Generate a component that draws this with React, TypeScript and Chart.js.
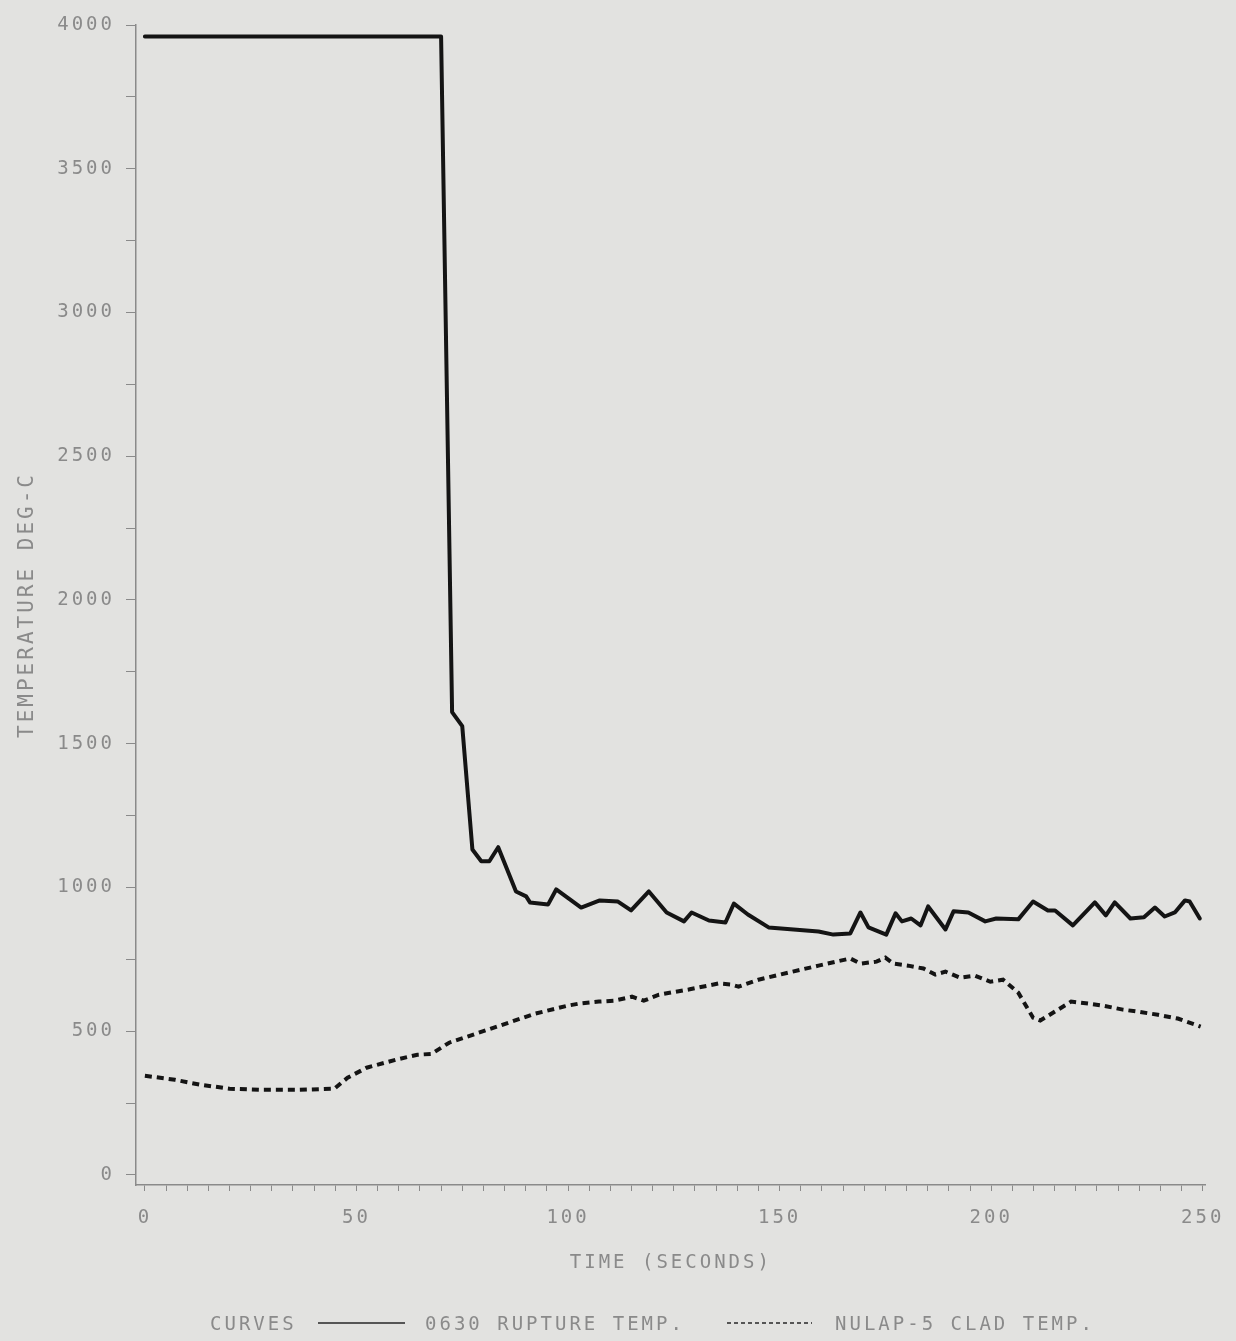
import React, { useEffect, useRef } from 'react';
import { Chart, registerables } from 'chart.js';

Chart.register(...registerables);

// ---- data ----
const ruptureTime = [0, 70, 72.6, 75.0, 77.4, 79.5, 81.4, 83.5, 87.7, 90.1, 91.0, 95.3, 97.2, 103.1, 107.5, 111.8, 114.9, 119.1, 123.3, 127.4, 129.2, 133.3, 137.2, 139.2, 142.5, 147.4, 159.2, 162.7, 166.7, 169.1, 171.0, 175.2, 177.4, 178.9, 181.1, 183.3, 185.1, 189.2, 191.1, 194.6, 198.6, 201.2, 206.4, 209.9, 213.4, 215.1, 219.3, 224.5, 227.1, 229.2, 232.9, 236.1, 238.7, 241.0, 243.4, 245.8, 246.9, 249.3];
const ruptureTemp = [3960, 3960, 1610, 1561, 1132, 1091, 1091, 1140, 986, 969, 948, 941, 993, 930, 955, 951, 920, 986, 913, 882, 913, 885, 878, 944, 906, 861, 847, 836, 840, 913, 861, 836, 910, 882, 892, 868, 934, 854, 917, 913, 882, 892, 889, 951, 920, 920, 868, 948, 903, 948, 892, 896, 930, 899, 913, 955, 951, 892];

const cladTime = [0, 7.1, 13, 20, 27.1, 36.6, 44.8, 47.9, 52.4, 59.4, 64.4, 67.7, 71.9, 81.8, 92.2, 100.0, 102.6, 107.3, 110.8, 115.1, 117.9, 121.5, 128.5, 135.6, 138.7, 140.3, 145.0, 152.1, 159.2, 166.7, 169.1, 172.9, 175.0, 176.9, 180.4, 184.0, 186.8, 189.2, 192.7, 196.2, 199.8, 202.8, 206.4, 209.9, 211.6, 215.8, 218.9, 222.9, 226.4, 231.1, 234.7, 239.4, 244.1, 249.5];
const cladTemp = [345, 331, 314, 300, 296, 296, 300, 338, 373, 401, 418, 421, 460, 509, 561, 589, 596, 603, 606, 620, 606, 627, 645, 666, 662, 655, 679, 704, 728, 753, 735, 742, 756, 735, 728, 718, 697, 707, 686, 693, 672, 679, 634, 547, 537, 575, 603, 596, 589, 575, 568, 557, 544, 516];

const xTickLabels = [0, 50, 100, 150, 200, 250];
const yTickLabels = [0, 500, 1000, 1500, 2000, 2500, 3000, 3500, 4000];
const xMinorStep = 5;
const yMinorStep = 250;

const seriesNames = ['0630 RUPTURE TEMP.', 'NULAP-5 CLAD TEMP.'];
const legendPrefix = 'CURVES';
const xTitle = 'TIME (SECONDS)';
const yTitle = 'TEMPERATURE DEG-C';

// ---- styling ----
const BG = '#e2e2e0';
const TEXT = '#8a8a8a';
const AXIS = '#8a8a8a';
const INK = '#141414';
const MONO = "'DejaVu Sans Mono', monospace";

const W = 1236;
const H = 1341;

const paperPlugin = {
  id: 'paper',
  beforeDraw(chart: any) {
    const ctx = chart.ctx;
    ctx.save();
    ctx.fillStyle = BG;
    ctx.fillRect(0, 0, chart.width, chart.height);
    ctx.restore();
    ctx.letterSpacing = '3px';
  },
  afterDraw(chart: any) {
    const ctx = chart.ctx;
    ctx.save();
    ctx.letterSpacing = '3px';
    ctx.font = `19px ${MONO}`;
    ctx.fillStyle = TEXT;
    ctx.textBaseline = 'middle';
    ctx.textAlign = 'left';
    const y = 1325;
    ctx.fillText(legendPrefix, 210, y);
    ctx.strokeStyle = '#555';
    ctx.lineWidth = 2;
    ctx.beginPath();
    ctx.moveTo(318, y - 2);
    ctx.lineTo(405, y - 2);
    ctx.stroke();
    ctx.fillText(seriesNames[0], 425, y);
    ctx.setLineDash([4, 3]);
    ctx.beginPath();
    ctx.moveTo(727, y - 2);
    ctx.lineTo(812, y - 2);
    ctx.stroke();
    ctx.setLineDash([]);
    ctx.fillText(seriesNames[1], 835, y);
    ctx.restore();
  },
};

function range(a: number, b: number, step: number) {
  const out: number[] = [];
  for (let v = a; v <= b + 1e-9; v += step) out.push(v);
  return out;
}

export default function App() {
  const ref = useRef<HTMLCanvasElement | null>(null);

  useEffect(() => {
    document.body.style.margin = '0';
    document.body.style.background = BG;
    const canvas = ref.current;
    if (!canvas) return;

    const rupture = ruptureTime.map((t, i) => ({ x: t, y: ruptureTemp[i] }));
    const clad = cladTime.map((t, i) => ({ x: t, y: cladTemp[i] }));
    const xTicks = range(0, 250, xMinorStep);
    const yTicks = range(0, 4000, yMinorStep);

    const chart = new Chart(canvas, {
      type: 'line',
      data: {
        datasets: [
          {
            label: seriesNames[0],
            data: rupture,
            borderColor: INK,
            borderWidth: 4,
            pointRadius: 0,
            tension: 0,
            borderJoinStyle: 'round',
            borderCapStyle: 'round',
            fill: false,
          },
          {
            label: seriesNames[1],
            data: clad,
            borderColor: INK,
            borderWidth: 4,
            borderDash: [7, 5],
            pointRadius: 0,
            tension: 0,
            fill: false,
          },
        ],
      },
      options: {
        responsive: false,
        animation: false,
        devicePixelRatio: 1,
        layout: { padding: { left: 0, top: 25, right: 28, bottom: 60 } },
        plugins: {
          legend: { display: false },
          tooltip: { enabled: false },
          title: { display: false },
        },
        scales: {
          x: {
            type: 'linear',
            min: -2.1,
            max: 250.7,
            afterBuildTicks: (s: any) => {
              s.ticks = xTicks.map((v) => ({ value: v }));
            },
            afterFit: (s: any) => {
              s.height = 96;
            },
            ticks: {
              autoSkip: false,
              maxRotation: 0,
              minRotation: 0,
              padding: 16,
              color: TEXT,
              font: { size: 19, family: MONO },
              callback: (v: any) => (xTickLabels.includes(Number(v)) ? String(v) : ''),
            },
            grid: {
              drawOnChartArea: false,
              drawTicks: true,
              tickLength: 6,
              tickColor: AXIS,
              tickWidth: 1,
            },
            border: { display: true, color: AXIS, width: 1.5 },
            title: {
              display: true,
              text: xTitle,
              color: TEXT,
              font: { size: 19, family: MONO },
              padding: { top: 0, bottom: 6.6 },
            },
          },
          y: {
            type: 'linear',
            min: -35,
            max: 4000,
            afterBuildTicks: (s: any) => {
              s.ticks = yTicks.map((v) => ({ value: v }));
            },
            afterFit: (s: any) => {
              s.width = 136;
            },
            ticks: {
              autoSkip: false,
              padding: 11,
              color: TEXT,
              font: { size: 19, family: MONO },
              callback: (v: any) => (yTickLabels.includes(Number(v)) ? String(v) : ''),
            },
            grid: {
              drawOnChartArea: false,
              drawTicks: true,
              tickLength: 10,
              tickColor: AXIS,
              tickWidth: 1,
            },
            border: { display: true, color: AXIS, width: 1.5 },
            title: {
              display: true,
              text: yTitle,
              color: TEXT,
              font: { size: 21, family: MONO },
              padding: { top: 15, bottom: 0 },
            },
          },
        },
      },
      plugins: [paperPlugin],
    } as any);

    return () => chart.destroy();
  }, []);

  return (
    <div style={{ position: 'absolute', left: 0, top: 0, width: W, height: H, background: BG }}>
      <canvas ref={ref} width={W} height={H} style={{ display: 'block', width: W, height: H }} />
    </div>
  );
}
